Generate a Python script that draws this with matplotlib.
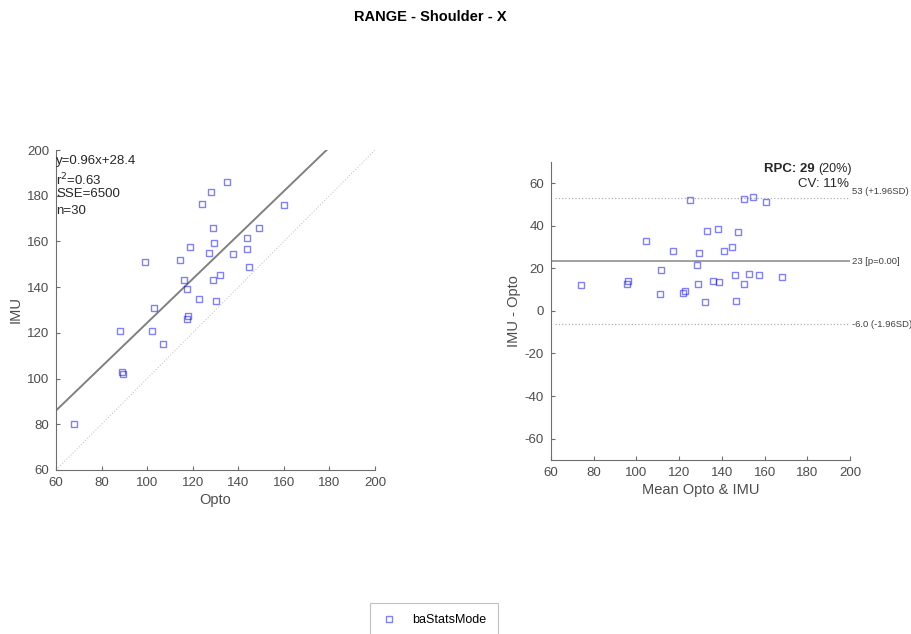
import numpy as np
import matplotlib.pyplot as plt

# values
opto = [68, 88, 89, 89.5, 99, 103, 102, 107, 114.5, 116, 117.5, 118, 117.7, 119, 122.6,
        124, 127, 128, 129, 129, 129.5, 130, 132, 135, 137.5, 144, 144, 144.5, 149, 160]
imu = [80, 121, 103, 102, 151, 131, 121, 115, 152, 143, 139, 127.5, 126, 157.5, 135,
       176.5, 155, 181.5, 166, 143, 159.5, 134, 145.5, 186, 154.5, 161.5, 156.5, 149, 166, 176]
fit_slope = 0.96
fit_intercept = 28.4
fit_text = ['y=0.96x+28.4', 'r$^2$=0.63', 'SSE=6500', 'n=30']
bias = 23.3
loa_hi = 52.8
loa_lo = -6.2
line_labels = ['53 (+1.96SD)', '23 [p=0.00]', '-6.0 (-1.96SD)']

plt.rcParams['font.family'] = ['Liberation Sans', 'DejaVu Sans']
plt.rcParams['axes.unicode_minus'] = False
txt = '#262626'
tick_col = '#4d4d4d'
ax_col = '#6e6e6e'
mk = dict(marker='s', ms=3.8, mfc='none', mec=(0, 0, 1, 0.5), mew=1.0, ls='none')

fig = plt.figure(figsize=(9.12, 6.34), dpi=100)
fig.suptitle('RANGE - Shoulder - X', x=0.472, y=0.985, fontsize=10.5, fontweight='bold')

def style(ax):
    for s in ['top', 'right']:
        ax.spines[s].set_visible(False)
    for s in ['left', 'bottom']:
        ax.spines[s].set_color(ax_col)
        ax.spines[s].set_linewidth(0.8)
    ax.tick_params(direction='in', length=3, colors=ax_col, labelsize=9.5,
                   labelcolor=tick_col, pad=5)

# correlation plot
ax1 = fig.add_axes([0.0614, 0.2587, 0.3498, 0.5047])
x = np.array(opto)
y = np.array(imu)
ax1.plot([60, 200], [60, 200], ls=':', color='#c8c8c8', lw=0.8)
xf = np.array([60, 200])
ax1.plot(xf, fit_slope * xf + fit_intercept, color='#808080', lw=1.4)
ax1.plot(x, y, label='baStatsMode', **mk)
ax1.set_xlim(60, 200)
ax1.set_ylim(60, 200)
ax1.set_xticks(range(60, 201, 20))
ax1.set_yticks(range(60, 201, 20))
ax1.set_xlabel('Opto', fontsize=10.5, color=tick_col, labelpad=3)
ax1.set_ylabel('IMU', fontsize=10.5, color=tick_col, labelpad=3)
style(ax1)
for i, t in enumerate(fit_text):
    ax1.text(0.0, 0.985 - i * 0.052, t, transform=ax1.transAxes, fontsize=9.5,
             color=txt, va='top', ha='left')

# Bland-Altman plot
ax2 = fig.add_axes([0.6042, 0.2744, 0.3279, 0.4705])
mean_v = (x + y) / 2
diff_v = y - x
ax2.axhline(bias, color='#a0a0a0', lw=1.4, xmin=0, xmax=1.0)
ax2.plot([62, 200], [loa_hi, loa_hi], ls=':', color='#b0b0b0', lw=0.9)
ax2.plot([62, 200], [loa_lo, loa_lo], ls=':', color='#b0b0b0', lw=0.9)
ax2.plot(mean_v, diff_v, **mk)
ax2.set_xlim(60, 200)
ax2.set_ylim(-70, 70)
ax2.set_xticks(range(60, 201, 20))
ax2.set_yticks(range(-60, 61, 20))
ax2.set_xlabel('Mean Opto & IMU', fontsize=10.5, color=tick_col, labelpad=3)
ax2.set_ylabel('IMU - Opto', fontsize=10.5, color=tick_col, labelpad=3)
style(ax2)
for lvl, lab in zip([loa_hi + 3, bias, loa_lo], line_labels):
    ax2.text(200.8, lvl, lab, fontsize=6.8, color='#404040', va='center', ha='left',
             clip_on=False)
ax2.text(0.883, 0.975, 'RPC: 29', transform=ax2.transAxes, fontsize=9.5,
         fontweight='bold', color=txt, ha='right', va='center')
ax2.text(0.893, 0.975, '(20%)', transform=ax2.transAxes, fontsize=9,
         color=txt, ha='left', va='center')
ax2.text(0.995, 0.925, 'CV: 11%', transform=ax2.transAxes, fontsize=9.5,
         color=txt, ha='right', va='center')

h, l = ax1.get_legend_handles_labels()
leg = fig.legend(h, l, loc='upper left', bbox_to_anchor=(370 / 912, 1 - 603 / 634),
                 fontsize=9, fancybox=False, edgecolor='#c0c0c0', borderpad=0.9,
                 borderaxespad=0, handlelength=1.2, handletextpad=1.3, framealpha=1)
leg.get_frame().set_linewidth(0.8)

fig.savefig('out.png', dpi=100)
